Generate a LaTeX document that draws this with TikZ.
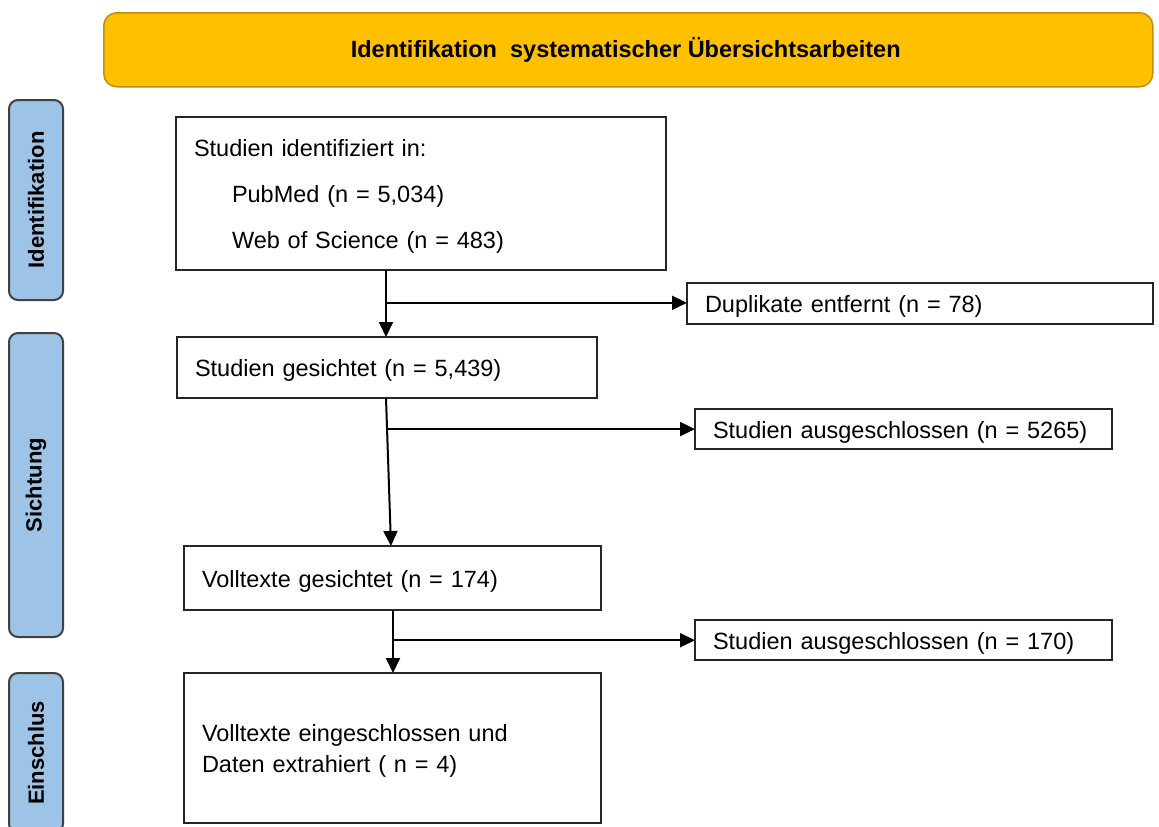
\documentclass[tikz,border=0pt]{standalone}
\usepackage{fontspec}
\setmainfont{Liberation Sans}
\usetikzlibrary{arrows.meta,calc}
\definecolor{bannerfill}{HTML}{FFC000}
\definecolor{bannerline}{HTML}{BF9000}
\definecolor{sidefill}{HTML}{9DC3E6}
\definecolor{sideline}{HTML}{404040}
\definecolor{boxline}{HTML}{262626}
\tikzset{
  flowbox/.style={draw=boxline, line width=2pt, fill=white, anchor=north west,
    inner xsep=18pt, inner ysep=0pt, outer sep=0pt, align=left,
    font=\fontsize{23.5}{31}\selectfont,
    execute at begin node={\rule{0pt}{23.5pt}}},
  sidebox/.style={draw=sideline, line width=2pt, fill=sidefill, rounded corners=9pt,
    rotate=90, minimum height=54pt, inner sep=0pt, outer sep=0pt,
    font=\bfseries\fontsize{22}{26}\selectfont},
  banner/.style={draw=bannerline, line width=1.5pt, fill=bannerfill, rounded corners=13pt,
    anchor=north west, minimum width=1049pt, minimum height=74pt, inner sep=0pt,
    font=\bfseries\fontsize{23.5}{26}\selectfont},
  arr/.style={draw=black, line width=2pt, -{Triangle[length=15pt,width=14pt]}},
}
\begin{document}
\begin{tikzpicture}[x=1pt,y=-1pt]
\useasboundingbox (0,0) rectangle (1159,827);
% banner
\node[banner] (ban) at (103,12) {\hspace*{-5pt}Identifikation\ \ systematischer Übersichtsarbeiten};
% side labels
\node[sidebox, minimum width=200pt] (s1) at (36,200) {Identifikation};
\node[sidebox, minimum width=304pt] (s2) at (36,485) {Sichtung};
\node[sidebox, minimum width=160pt] (s3) at (36,753) {Einschlus};
% main boxes
\node[flowbox, minimum width=490pt, minimum height=153pt, text width=454pt,
      font=\fontsize{23.5}{46}\selectfont] (b1) at (176,117)
  {Studien identifiziert in:\\\hspace*{38pt}PubMed (n = 5,034)\\\hspace*{38pt}Web of Science (n = 483)};
\node[flowbox, minimum width=420pt, minimum height=61pt, text width=384pt] (b2) at (177,337)
  {Studien gesichtet (n = 5,439)};
\node[flowbox, minimum width=417pt, minimum height=64pt, text width=381pt] (b3) at (184,546)
  {Volltexte\ gesichtet (n = 174)};
\node[flowbox, minimum width=417pt, minimum height=150pt, text width=381pt] (b4) at (184,673)
  {Volltexte\ eingeschlossen und\\Daten extrahiert ( n = 4)};
% side boxes
\node[flowbox, minimum width=466pt, minimum height=41pt, text width=430pt] (dup) at (687,283)
  {Duplikate entfernt (n = 78)};
\node[flowbox, minimum width=417pt, minimum height=40pt, text width=381pt] (ex1) at (695,409)
  {Studien ausgeschlossen (n = 5265)};
\node[flowbox, minimum width=417pt, minimum height=40pt, text width=381pt] (ex2) at (695,620)
  {Studien ausgeschlossen (n = 170)};
% connectors
\coordinate (a1) at ($(b1.south west)+(210,0)$);
\coordinate (a1e) at ($(b2.north west)+(209,0)$);
\coordinate (a2) at ($(b2.south west)+(209,0)$);
\coordinate (a2e) at ($(b3.north west)+(207,0)$);
\coordinate (a3) at ($(b3.south west)+(209,0)$);
\coordinate (a3e) at ($(b4.north west)+(209,0)$);
\draw[arr] (a1) -- (a1e);
\draw[arr] (a2) -- (a2e);
\draw[arr] (a3) -- (a3e);
\path (a1) -- (a1e) coordinate[pos=0.49] (j1);
\path (a2) -- (a2e) coordinate[pos=0.21] (j2);
\path (a3) -- (a3e) coordinate[pos=0.48] (j3);
\draw[arr] (j1) -- (j1 -| dup.west);
\draw[arr] (j2) -- (j2 -| ex1.west);
\draw[arr] (j3) -- (j3 -| ex2.west);
\end{tikzpicture}
\end{document}
